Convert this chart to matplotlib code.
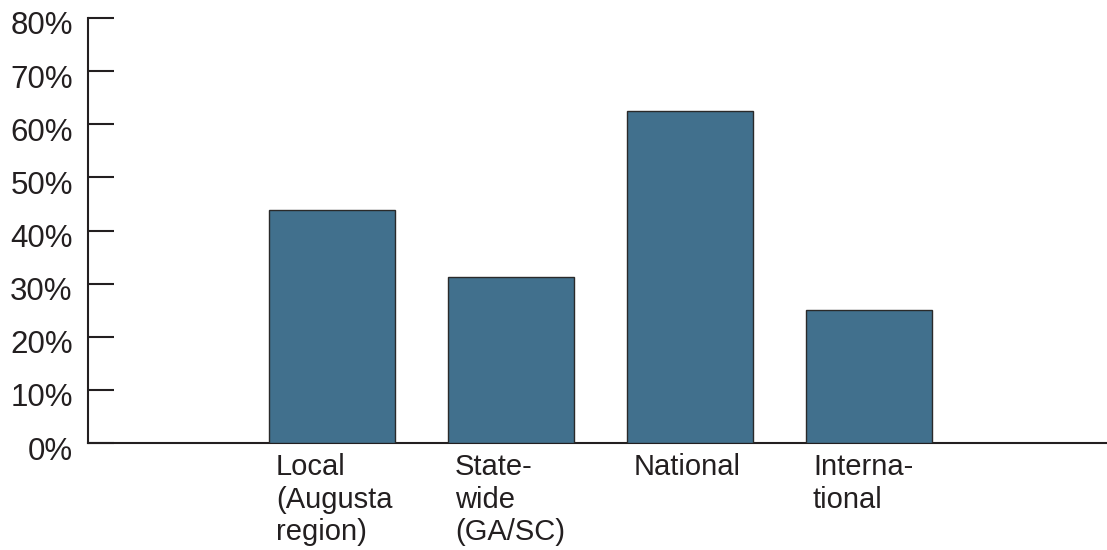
import matplotlib.pyplot as plt
import matplotlib.transforms as mtransforms

# share of respondents by market reach
categorias = ["Local\n(Augusta\nregion)", "State-\nwide\n(GA/SC)", "National", "Interna-\ntional"]
porcentajes = [43.8, 31.3, 62.5, 25.0]
ticks_y = [0, 10, 20, 30, 40, 50, 60, 70, 80]

plt.rcParams['font.family'] = ['Liberation Sans', 'DejaVu Sans']

fig = plt.figure(figsize=(11.07, 5.5), dpi=100)
ax = fig.add_axes([88 / 1107, 107 / 550, 1 - 88 / 1107, 425 / 550])

x = list(range(len(porcentajes)))
ancho = 0.704
ax.bar(x, porcentajes, width=ancho, color="#41708d", edgecolor="#2a2a2a", linewidth=1.0, zorder=3)

ax.set_xlim(-1.363, 4.33)
ax.set_ylim(0, 80)

ax.set_yticks(ticks_y)
ax.set_yticklabels([f"{t}%" for t in ticks_y], fontsize=22.5, color="#231f20")
ax.tick_params(axis='y', direction='in', length=19, width=1.5, pad=11, color="#231f20")
ax.set_xticks([])

# nudge y labels slightly down
off = mtransforms.ScaledTranslation(0, -5 / 100, fig.dpi_scale_trans)
for lbl in ax.get_yticklabels():
    lbl.set_transform(lbl.get_transform() + off)

for s in ["top", "right"]:
    ax.spines[s].set_visible(False)
for s in ["left", "bottom"]:
    ax.spines[s].set_linewidth(1.5)
    ax.spines[s].set_color("#231f20")

# category labels, left aligned under each bar
trans = mtransforms.blended_transform_factory(ax.transData, ax.transAxes)
for xi, cat in zip(x, categorias):
    ax.annotate(cat, xy=(xi - ancho / 2, 0), xycoords=trans,
                xytext=(5, -7), textcoords="offset points",
                ha="left", va="top", fontsize=21, linespacing=1.22, color="#231f20")

fig.savefig("out.png", dpi=100)
